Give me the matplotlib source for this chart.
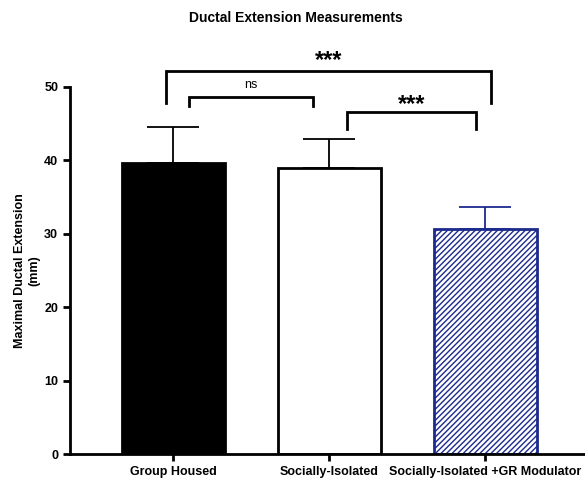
import matplotlib
matplotlib.use("Agg")
import matplotlib.pyplot as plt

categories = ["Group Housed", "Socially-Isolated", "Socially-Isolated +GR Modulator"]
means = [39.7, 39.0, 30.7]
sem = [4.8, 3.9, 2.9]
y_ticks = [0, 10, 20, 30, 40, 50]

# significance comparisons: (left index, right index, text)
comparisons = [(0, 2, "***"), (0, 1, "ns"), (1, 2, "***")]

plt.rcParams['font.family'] = ['Liberation Sans', 'DejaVu Sans']
plt.rcParams['hatch.linewidth'] = 1.0

fig = plt.figure(figsize=(5.85, 4.83), dpi=100)
ax = fig.add_axes([0.1197, 0.06, 0.8803, 0.76])

navy = "#1c2a8c"
x = list(range(len(categories)))
faces = ["black", "white", "white"]
edges = ["black", "black", navy]
hatches = [None, None, "//////"]
for i in x:
    ax.bar(i, means[i], width=0.66, color=faces[i], edgecolor=edges[i],
           linewidth=2, hatch=hatches[i], zorder=2)
    ax.errorbar(i, means[i], yerr=[[0], [sem[i]]], fmt='none',
                ecolor=edges[i], elinewidth=1.3, capsize=19, capthick=1.3, zorder=1)

ax.set_xlim(-0.66, 2.64)
ax.set_ylim(0, 50)
ax.set_yticks(y_ticks)
ax.set_xticks(x)
ax.set_xticklabels(categories, fontsize=9, fontweight='bold')
ax.tick_params(axis='y', labelsize=9, width=2, length=5)
for lab in ax.get_yticklabels():
    lab.set_fontweight('bold')
ax.tick_params(axis='x', width=2, length=5)
for s in ['top', 'right']:
    ax.spines[s].set_visible(False)
for s in ['left', 'bottom']:
    ax.spines[s].set_linewidth(2)

ax.set_ylabel("Maximal Ductal Extension\n(mm)", fontsize=9, fontweight='bold', labelpad=3)
fig.text(0.506, 0.962, "Ductal Extension Measurements", ha='center', va='center',
         fontsize=10, fontweight='bold')

# brackets: (x0, x1, top, bottom_left, bottom_right, text_y)
bracket_geo = {
    (0, 2): (-0.045, 2.04, 52.2, 47.8, 47.8, 53.9),
    (0, 1): (0.10, 0.90, 48.6, 47.4, 47.4, 50.2),
    (1, 2): (1.115, 1.94, 46.6, 44.3, 44.3, 48.0),
}
for a, b, txt in comparisons:
    x0, x1, top, bl, br, ty = bracket_geo[(a, b)]
    ax.plot([x0, x0, x1, x1], [bl, top, top, br], color='black', lw=2,
            clip_on=False, solid_joinstyle='miter')
    if txt == "ns":
        ax.text((x0 + x1) / 2, ty, txt, ha='center', va='center', fontsize=9)
    else:
        ax.text((x0 + x1) / 2, ty, txt, ha='center', va='center_baseline', fontsize=17,
                fontweight='bold')

fig.savefig("out.png", dpi=100)
